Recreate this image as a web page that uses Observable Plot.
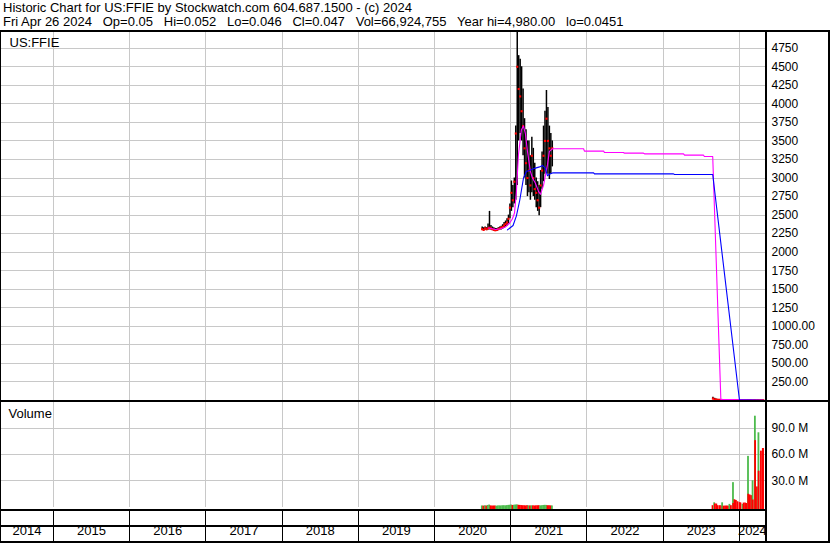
<!DOCTYPE html>
<html><head><meta charset="utf-8">
<script src="https://cdn.jsdelivr.net/npm/d3@7"></script>
<script src="https://cdn.jsdelivr.net/npm/@observablehq/plot@0.6"></script>
<style>
html,body{margin:0;padding:0;background:#fff;}
#wrap{position:relative;width:830px;height:543px;overflow:hidden;font-family:'Liberation Sans',Arial,sans-serif;background:#fff;}
.hdr{position:absolute;left:3px;font-size:13px;line-height:14px;white-space:pre;color:#000;}
.b{position:absolute;background:#000;}
.panel{position:absolute;left:0;}
.panel svg{display:block;}
</style></head><body>
<div id="wrap">
  <div class="hdr" id="h1" style="top:1px"></div>
  <div class="hdr" id="h2" style="top:15px"></div>
  <div class="panel" id="price" style="top:32px"></div>
  <div class="panel" id="vol" style="top:402px"></div>
  <div class="panel" id="dates" style="top:511px"></div>
  <div class="b" style="left:0;top:30px;width:830px;height:2px"></div>
  <div class="b" style="left:0;top:30px;width:1px;height:513px"></div>
  <div class="b" style="left:828px;top:30px;width:2px;height:513px"></div>
  <div class="b" style="left:765px;top:30px;width:2px;height:513px"></div>
  <div class="b" style="left:0;top:400px;width:830px;height:2px"></div>
  <div class="b" style="left:0;top:509px;width:767px;height:2px"></div>
  <div class="b" style="left:0;top:525px;width:767px;height:2px"></div>
  <div class="b" style="left:0;top:541px;width:830px;height:2px"></div>
</div>
<script>
const headerLine1 = "Historic Chart for US:FFIE by Stockwatch.com 604.687.1500 - (c) 2024";
const headerLine2 = "Fri Apr 26 2024   Op=0.05   Hi=0.052   Lo=0.046   Cl=0.047   Vol=66,924,755   Year hi=4,980.00   lo=0.0451";
const symbolLabel = "US:FFIE";
const volumeLabel = "Volume";

const years = [2014,2015,2016,2017,2018,2019,2020,2021,2022,2023,2024];
const xStart = "2014-04-22", xEnd = "2024-05-06";
const priceTicks = [250,500,750,1000,1250,1500,1750,2000,2250,2500,2750,3000,3250,3500,3750,4000,4250,4500,4750];
const priceMax = 4962;
const volTicks = [30,60,90];
const volMax = 119.7;

// Price bars (weekly)
const barDate = ["2020-08-17","2020-08-24","2020-08-31","2020-09-07","2020-09-14","2020-09-21","2020-09-28","2020-10-05","2020-10-12","2020-10-19","2020-10-26","2020-11-02","2020-11-09","2020-11-16","2020-11-23","2020-11-30","2020-12-07","2020-12-14","2020-12-21","2020-12-28","2021-01-04","2021-01-11","2021-01-18","2021-01-25","2021-02-01","2021-02-08","2021-02-15","2021-02-22","2021-03-01","2021-03-08","2021-03-15","2021-03-22","2021-03-29","2021-04-05","2021-04-12","2021-04-19","2021-04-26","2021-05-03","2021-05-10","2021-05-17","2021-05-24","2021-05-31","2021-06-07","2021-06-14","2021-06-21","2021-06-28","2021-07-05","2021-07-12","2021-07-19",
"2023-08-28","2023-09-05","2023-09-11","2023-09-18","2023-09-25","2023-10-02","2023-10-09","2023-10-16","2023-10-23","2023-10-30","2023-11-06","2023-11-13","2023-11-20","2023-11-27","2023-12-04","2023-12-11","2023-12-18","2023-12-26","2024-01-02","2024-01-08","2024-01-16","2024-01-22","2024-01-29","2024-02-05","2024-02-12","2024-02-20","2024-02-26","2024-03-04","2024-03-11","2024-03-18","2024-03-25","2024-04-01","2024-04-08","2024-04-15","2024-04-22","2024-04-26"];
const barHigh = [2340,2330,2340,2330,2380,2550,2360,2340,2330,2320,2320,2330,2340,2350,2370,2400,2420,2450,2500,2650,2960,2900,3000,3700,4980,4650,4600,4500,4200,3800,3650,3500,3500,3300,3550,3400,3200,3000,2950,2900,3100,3350,3700,3900,4180,3950,3700,3600,3500,
45,30,20,15,12,11,10,9,8,7,7,6,6,5,7,6,5,5,4,4,4,3,3,3,4,4,3,3,5,4,3,3,3,2,2,2];
const barLow = [2295,2290,2300,2290,2300,2300,2300,2290,2285,2280,2280,2290,2300,2300,2310,2320,2340,2350,2380,2450,2550,2600,2650,2700,2900,3500,3600,3500,3300,3000,2900,2750,2800,2700,2800,2750,2700,2600,2550,2490,2600,2850,2950,3050,3100,3050,2980,3050,3150,
18,12,10,9,8,7,6,5,5,4,4,4,3,3,3,3,3,2,2,2,2,2,2,1,2,2,2,2,2,2,2,1,1,1,1,1];
const barClose = [2310,2300,2320,2310,2320,2330,2320,2310,2300,2295,2300,2310,2320,2330,2340,2360,2380,2400,2450,2600,2800,2700,2950,3600,4500,4200,4100,3900,3700,3400,3200,3000,3100,2900,3300,3000,2850,2800,2700,2600,2900,3100,3300,3500,3800,3500,3400,3300,3400,
25,15,12,10,9,8,7,6,6,5,5,5,4,4,5,4,4,3,3,3,3,2,2,2,3,3,2,2,3,3,2,2,2,1,1,1];

// Short moving average (magenta)
const maShortDate = ["2020-09-16","2020-10-20","2020-11-13","2020-12-07","2020-12-26","2021-01-09","2021-01-19","2021-01-28","2021-02-07","2021-02-21","2021-03-03","2021-03-12","2021-03-22","2021-04-05","2021-04-15","2021-04-29","2021-05-14","2021-05-23","2021-06-07","2021-06-26","2021-07-05","2021-07-20","2021-12-16","2021-12-20","2022-03-22","2022-03-26","2022-06-25","2022-06-30","2022-09-29","2022-10-04","2023-04-09","2023-04-14","2023-07-14","2023-07-18","2023-08-27","2023-10-05","2024-04-26"];
const maShortVal = [2325,2305,2315,2340,2390,2450,2530,2820,3320,3650,3700,3600,3360,3090,3000,2930,2820,2780,2900,3180,3360,3394,3394,3362,3362,3344,3344,3335,3335,3326,3326,3308,3308,3290,3290,15,3];

// Long moving average (blue)
const maLongDate = ["2020-12-16","2021-01-12","2021-01-28","2021-02-13","2021-03-03","2021-03-17","2021-04-01","2021-04-25","2021-05-19","2021-06-02","2021-06-16","2021-06-26","2021-07-05","2021-07-20","2022-02-02","2022-02-06","2023-02-20","2023-02-25","2023-08-27","2024-01-02","2024-04-26"];
const maLongVal = [2300,2360,2490,2700,3000,3090,3100,3130,3150,3170,3130,3030,3050,3069,3069,3056,3056,3047,3047,10,3];

// Volume (millions), up = 1 green, 0 red
const volDate = ["2020-08-17","2020-08-24","2020-08-31","2020-09-07","2020-09-14","2020-09-21","2020-09-28","2020-10-05","2020-10-12","2020-10-19","2020-10-26","2020-11-02","2020-11-09","2020-11-16","2020-11-23","2020-11-30","2020-12-07","2020-12-14","2020-12-21","2020-12-28","2021-01-04","2021-01-11","2021-01-18","2021-01-25","2021-02-01","2021-02-08","2021-02-15","2021-02-22","2021-03-01","2021-03-08","2021-03-15","2021-03-22","2021-03-29","2021-04-05","2021-04-12","2021-04-19","2021-04-26","2021-05-03","2021-05-10","2021-05-17","2021-05-24","2021-05-31","2021-06-07","2021-06-14","2021-06-21","2021-06-28","2021-07-05","2021-07-12","2021-07-19",
"2023-08-28","2023-09-05","2023-09-08","2023-09-15","2023-09-22","2023-10-02","2023-10-09","2023-10-13","2023-10-20","2023-10-27","2023-11-03","2023-11-10","2023-11-17","2023-11-24","2023-12-04","2023-12-05","2023-12-11","2023-12-18","2023-12-26","2024-01-05","2024-01-09","2024-01-19","2024-01-24","2024-01-31","2024-02-07","2024-02-14","2024-02-15","2024-02-22","2024-02-29","2024-03-07","2024-03-08","2024-03-18","2024-03-19","2024-03-28","2024-04-04","2024-04-05","2024-04-16","2024-04-25","2024-04-26"];
const volM = [1.2,1.0,1.4,1.1,1.8,2.2,1.3,1.0,1.2,1.1,1.0,1.2,1.3,1.2,1.4,1.5,1.3,1.6,1.8,2.0,2.2,1.8,2.0,2.3,2.4,2.0,1.8,1.6,1.5,1.4,1.3,1.5,1.4,1.2,1.4,1.3,1.2,1.3,1.4,1.5,1.3,1.5,1.7,1.9,1.8,1.5,1.4,1.3,1.2,
1.5,4.8,3.4,3.4,1.5,1.5,1.2,4.8,1.0,1.0,1.2,1.0,3.0,1.5,27.9,4.0,8.3,7.5,6.0,5.0,4.5,3.0,4.5,4.5,4.0,58,14.6,13.8,13.0,30,8,104,76,23,85,41,64,67,66.9];
const volUp = [1,0,1,0,1,1,0,0,0,0,1,1,1,1,1,1,1,1,1,1,1,0,1,1,1,0,0,0,0,0,0,0,1,0,1,0,0,0,0,0,1,1,1,1,1,0,0,0,1,
0,1,0,0,0,0,0,1,0,0,0,0,1,0,1,0,0,0,0,0,0,1,0,0,0,1,0,0,0,1,0,1,0,0,1,0,0,0,0];

const COLORS = {grid:"#c8c8c8", up:"#4dbb4d", down:"#ff0000", short:"#ff00ff", long:"#0000ff", bar:"#000000", close:"#ff0000"};

document.getElementById("h1").textContent = headerLine1;
document.getElementById("h2").textContent = headerLine2;

const parse = d3.utcParse("%Y-%m-%d");
const xDomain = [parse(xStart), parse(xEnd)];
const yearStarts = years.slice(1).map(y => new Date(Date.UTC(y, 0, 1)));
const yearCells = years.map(y => {
  const s = Math.max(Date.UTC(y,0,1), +xDomain[0]);
  const e = Math.min(Date.UTC(y+1,0,1), +xDomain[1]);
  return {label: String(y), mid: new Date((s + e) / 2)};
});

const bars = barDate.map((d,i) => ({date: parse(d), high: barHigh[i], low: barLow[i], close: barClose[i]}));
const maShort = maShortDate.map((d,i) => ({date: parse(d), v: maShortVal[i]}));
const maLong = maLongDate.map((d,i) => ({date: parse(d), v: maLongVal[i]}));
const vol = volDate.map((d,i) => ({date: parse(d), v: volM[i], up: volUp[i]}));

const font = "'Liberation Sans', Arial, sans-serif";
const common = {
  width: 830, marginLeft: 0, marginRight: 65, marginTop: 0,
  style: {fontFamily: font, fontSize: "12px", background: "transparent", color: "#000", overflow: "visible"},
  x: {type: "utc", domain: xDomain, axis: null}
};

const fmtPrice = d => d >= 1250 ? d3.format("d")(d) : d3.format(".2f")(d);

const pricePlot = Plot.plot({
  ...common, height: 368, marginBottom: 0,
  y: {domain: [0, priceMax], label: null},
  marks: [
    Plot.gridX(yearStarts, {stroke: COLORS.grid, strokeOpacity: 1, shapeRendering: "crispEdges"}),
    Plot.gridY(priceTicks, {stroke: COLORS.grid, strokeOpacity: 1, shapeRendering: "crispEdges"}),
    Plot.axisY(priceTicks, {anchor: "right", label: null, tickSize: 0, tickPadding: 6, tickFormat: fmtPrice, fontSize: 12, fill: "#000"}),
    Plot.ruleX(bars, {x: "date", y1: "low", y2: "high", stroke: COLORS.bar, strokeWidth: 1.5}),
    Plot.dot(bars, {x: "date", y: "close", r: 1.2, symbol: "square", fill: COLORS.close, stroke: "none"}),
    Plot.line(maShort, {x: "date", y: "v", stroke: COLORS.short, strokeWidth: 1.1}),
    Plot.line(maLong, {x: "date", y: "v", stroke: COLORS.long, strokeWidth: 1.1}),
    Plot.text([symbolLabel], {text: d => d, frameAnchor: "top-left", dx: 9, dy: 10, textAnchor: "start", lineAnchor: "middle", fontSize: 13, fill: "#000"})
  ]
});
document.getElementById("price").append(pricePlot);

const volPlot = Plot.plot({
  ...common, height: 107, marginBottom: 2.5,
  y: {domain: [0, volMax], label: null},
  color: {type: "identity"},
  marks: [
    Plot.gridX(yearStarts, {stroke: COLORS.grid, strokeOpacity: 1, shapeRendering: "crispEdges"}),
    Plot.gridY(volTicks, {stroke: COLORS.grid, strokeOpacity: 1, shapeRendering: "crispEdges"}),
    Plot.axisY(volTicks, {anchor: "right", label: null, tickSize: 0, tickPadding: 6, tickFormat: d => d3.format(".1f")(d) + " M", fontSize: 12, fill: "#000"}),
    Plot.rectY(vol, {x: "date", y1: 0, y2: "v", interval: d3.utcDay, fill: d => d.up ? COLORS.up : COLORS.down, insetBottom: -3, insetLeft: -0.8, insetRight: -0.8}),
    Plot.text([volumeLabel], {text: d => d, frameAnchor: "top-left", dx: 8, dy: 11, textAnchor: "start", lineAnchor: "middle", fontSize: 13, fill: "#000"})
  ]
});
document.getElementById("vol").append(volPlot);

const datePlot = Plot.plot({
  ...common, height: 30, marginBottom: 0,
  marks: [
    Plot.ruleX(yearStarts, {stroke: "#000", strokeWidth: 1, shapeRendering: "crispEdges"}),
    Plot.text(yearCells, {x: "mid", text: "label", frameAnchor: "bottom", dy: -7, fontSize: 13, fill: "#000"})
  ]
});
document.getElementById("dates").append(datePlot);
</script>
</body></html>
